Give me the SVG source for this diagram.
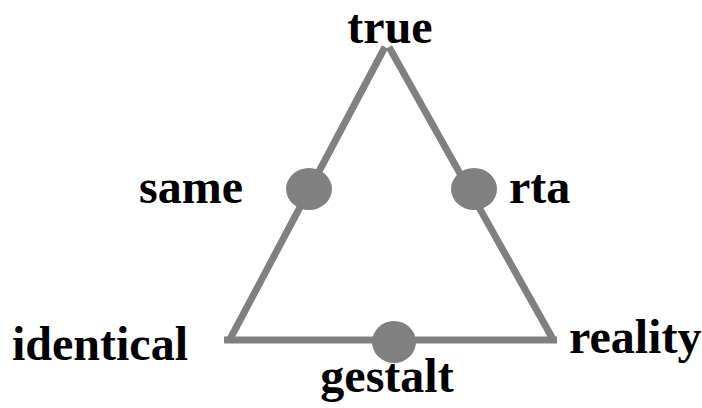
<svg xmlns="http://www.w3.org/2000/svg" width="702" height="408" viewBox="0 0 702 408">
<style>
.lbl{font-family:"Liberation Serif","Times New Roman",serif;font-weight:bold;font-size:48px;fill:#000}
.edge{stroke:#808080;stroke-width:7;fill:none}
.dot{fill:#808080}
</style>
<rect width="702" height="408" fill="#fff"/>
<g id="connectors">
<line class="edge" x1="229" y1="341" x2="385" y2="47"/>
<line class="edge" x1="389" y1="47" x2="554" y2="341"/>
<line class="edge" x1="224" y1="340" x2="557" y2="340"/>
</g>
<g id="node-true"><text class="lbl" x="390" y="43" text-anchor="middle">true</text></g>
<g id="node-same"><ellipse class="dot" cx="309" cy="189" rx="23" ry="21"/><text class="lbl" x="139" y="203">same</text></g>
<g id="node-rta"><ellipse class="dot" cx="474" cy="189" rx="23" ry="21"/><text class="lbl" x="509" y="203">rta</text></g>
<g id="node-identical"><text class="lbl" x="12" y="360">identical</text></g>
<g id="node-reality"><text class="lbl" x="569" y="353">reality</text></g>
<g id="node-gestalt"><ellipse class="dot" cx="394" cy="342" rx="22" ry="21"/><text class="lbl" x="387" y="392" text-anchor="middle">gestalt</text></g>
</svg>
